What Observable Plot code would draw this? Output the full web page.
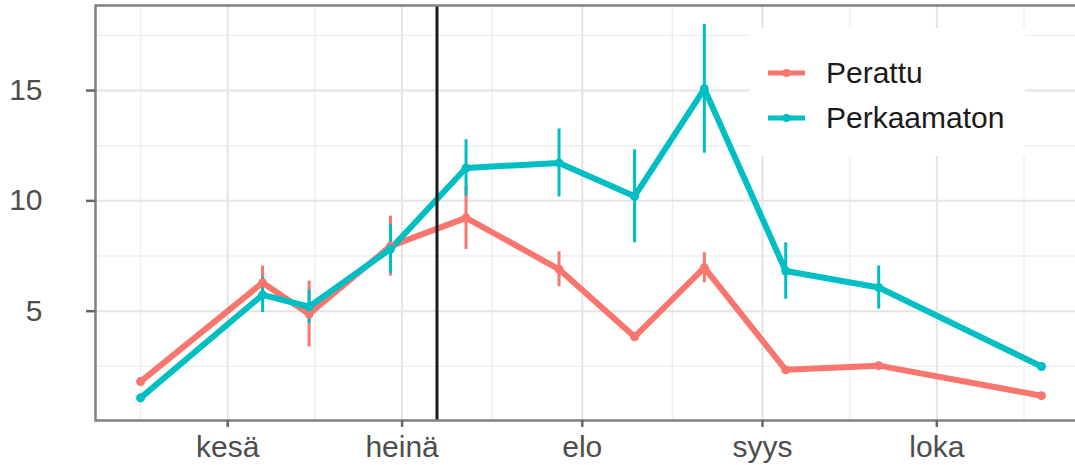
<!DOCTYPE html>
<html>
<head>
<meta charset="utf-8">
<script src="https://cdn.jsdelivr.net/npm/d3@7"></script>
<script src="https://cdn.jsdelivr.net/npm/@observablehq/plot@0.6"></script>
<style>
  body { margin: 0; background: #fff; }
  #chart { position: relative; width: 1075px; height: 465px; overflow: hidden;
           font-family: "Liberation Sans", Arial, Helvetica, sans-serif; }
  #legend { position: absolute; left: 750px; top: 28px; width: 275px; height: 128px;
            background: #fff; box-sizing: border-box; padding: 22px 0 0 18px; }
  .row { display: flex; align-items: center; height: 45px; font-size: 30px; color: #1a1a1a; }
  .row svg { margin-right: 21px; flex: none; }
</style>
</head>
<body>
<div id="chart"><div id="legend"></div></div>
<script>
// Sampling dates and the mean of each group (with standard errors)
const sampleDates = ["2020-05-17", "2020-06-07", "2020-06-15", "2020-06-29", "2020-07-12",
                     "2020-07-28", "2020-08-10", "2020-08-22", "2020-09-05", "2020-09-21", "2020-10-19"];
const perattu       = [1.81, 6.29, 4.87, 7.95, 9.23, 6.90, 3.84, 6.97, 2.34, 2.53, 1.17];
const perattuSe     = [0.15, 0.75, 1.49, 1.36, 1.43, 0.79, 0.20, 0.68, 0.15, 0.15, 0.10];
const perkaamaton   = [1.07, 5.74, 5.20, 7.82, 11.49, 11.72, 10.21, 15.08, 6.82, 6.07, 2.49];
const perkaamatonSe = [0.17, 0.80, 0.75, 1.10, 1.28, 1.54, 2.11, 2.92, 1.28, 0.98, 0.15];

const seriesNames  = ["Perattu", "Perkaamaton"];
const seriesColors = ["#F8766D", "#00BFC4"];

// Axis breaks
const monthBreaks = ["2020-06-01", "2020-07-01", "2020-08-01", "2020-09-01", "2020-10-01"];
const monthLabels = ["kesä", "heinä", "elo", "syys", "loka"];
const yBreaks = [5, 10, 15];

// Date of the vertical reference line
const markerDate = "2020-07-07";

const parse = d3.utcParse("%Y-%m-%d");
const values = [perattu, perkaamaton];
const errors = [perattuSe, perkaamatonSe];
const rows = [];
seriesNames.forEach((name, i) => {
  sampleDates.forEach((d, j) => {
    const v = values[i][j], e = errors[i][j];
    rows.push({series: name, date: parse(d), value: v, lo: v - e, hi: v + e});
  });
});

// Continuous scales padded by 5% on each side
const expand = ([a, b], f = 0.05) => { const r = b - a; return [a - r * f, b + r * f]; };
const xDomain = expand(d3.extent(rows, d => +d.date)).map(t => new Date(t));
const yDomain = expand([d3.min(rows, d => d.lo), d3.max(rows, d => d.hi)]);

// Major and minor grid positions (minor = midpoints, extended one step past the ends)
const majorX = monthBreaks.map(parse);
const xStep = majorX[1] - majorX[0];
const minorX = d3.pairs([new Date(+majorX[0] - xStep), ...majorX, new Date(+majorX[majorX.length - 1] + xStep)],
                        (a, b) => new Date((+a + +b) / 2));
const yStep = yBreaks[1] - yBreaks[0];
const minorY = d3.pairs([yBreaks[0] - yStep, ...yBreaks, yBreaks[yBreaks.length - 1] + yStep],
                        (a, b) => (a + b) / 2);
const monthName = new Map(majorX.map((d, i) => [+d, monthLabels[i]]));

const chart = Plot.plot({
  width: 1075,
  height: 465,
  marginLeft: 95,
  marginRight: -11,
  marginTop: 5,
  marginBottom: 45,
  style: {fontFamily: "'Liberation Sans', Arial, Helvetica, sans-serif", background: "#fff"},
  x: {type: "utc", domain: xDomain},
  y: {domain: yDomain},
  color: {domain: seriesNames, range: seriesColors},
  marks: [
    Plot.ruleX(minorX, {stroke: "#eeeeee", strokeWidth: 1.4}),
    Plot.ruleY(minorY, {stroke: "#eeeeee", strokeWidth: 1.4}),
    Plot.ruleX(majorX, {stroke: "#e4e4e4", strokeWidth: 2}),
    Plot.ruleY(yBreaks, {stroke: "#e4e4e4", strokeWidth: 2}),
    Plot.ruleX(rows, {x: "date", y1: "lo", y2: "hi", stroke: "series", strokeWidth: 3}),
    Plot.line(rows, {x: "date", y: "value", z: "series", stroke: "series", strokeWidth: 6,
                     strokeLinejoin: "round", strokeLinecap: "butt"}),
    Plot.dot(rows, {x: "date", y: "value", fill: "series", r: 4.5}),
    Plot.ruleX([parse(markerDate)], {stroke: "#1a1a1a", strokeWidth: 3}),
    Plot.frame({stroke: "#808080", strokeWidth: 2.5}),
    Plot.axisX(majorX, {tickFormat: d => monthName.get(+d), tickSize: 7, tickPadding: 8.4,
                        fontSize: 30, stroke: "#666", strokeWidth: 2.5, fill: "#4d4d4d", label: null}),
    Plot.axisY(yBreaks, {tickFormat: d => String(d), tickSize: 9, tickPadding: 44,
                         fontSize: 30, stroke: "#666", strokeWidth: 2.5, fill: "#4d4d4d", label: null})
  ]
});

const host = document.getElementById("chart");
host.insertBefore(chart, host.firstChild);

// Legend drawn over the top-right of the panel
const legend = d3.select("#legend");
seriesNames.forEach((name, i) => {
  const row = legend.append("div").attr("class", "row");
  const key = row.append("svg").attr("width", 37).attr("height", 14);
  key.append("line").attr("x1", 0).attr("x2", 37).attr("y1", 7).attr("y2", 7)
     .attr("stroke", seriesColors[i]).attr("stroke-width", 5);
  key.append("circle").attr("cx", 18.5).attr("cy", 7).attr("r", 4).attr("fill", seriesColors[i]);
  row.append("span").text(name);
});
</script>
</body>
</html>
